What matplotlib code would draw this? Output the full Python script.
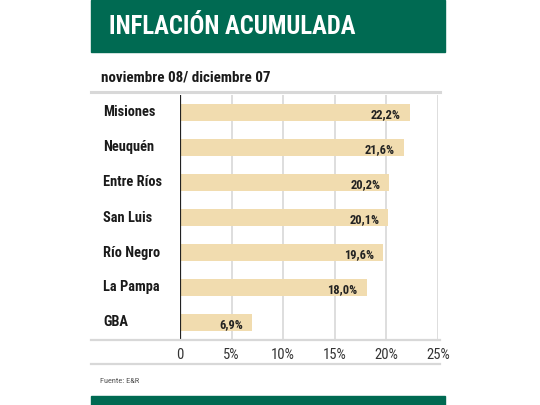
import matplotlib
matplotlib.use("Agg")
import matplotlib.pyplot as plt
from matplotlib.patches import Rectangle
from matplotlib.lines import Line2D

COND = ["Roboto Condensed", "DejaVu Sans"]

categories = ["Misiones", "Neuquén", "Entre Ríos", "San Luis", "Río Negro", "La Pampa", "GBA"]
values = [22.2, 21.6, 20.2, 20.1, 19.6, 18.0, 6.9]
value_labels = ["22,2%", "21,6%", "20,2%", "20,1%", "19,6%", "18,0%", "6,9%"]
xticks = [0, 5, 10, 15, 20, 25]
xtick_labels = ["0", "5%", "10%", "15%", "20%", "25%"]

GREEN = "#006a52"
BAR = "#f1dcaf"
GRID = "#d8d8d8"
W, H = 540, 405

fig = plt.figure(figsize=(5.4, 4.05), dpi=100)
fig.patch.set_facecolor("white")

def fx(px): return px / W
def fy(py): return 1 - py / H

# header
fig.patches.append(Rectangle((fx(91), fy(52)), fx(445) - fx(91), fy(0) - fy(52),
                             transform=fig.transFigure, color=GREEN, zorder=0))
fig.text(fx(109), fy(27), "INFLACIÓN ACUMULADA", color="white", fontsize=17.7,
         fontweight="bold", family=COND, va="center", ha="left")
# bottom bar
fig.patches.append(Rectangle((fx(91), 0), fx(445) - fx(91), fy(396),
                             transform=fig.transFigure, color=GREEN, zorder=0))

fig.text(fx(101), fy(77), "noviembre 08/ diciembre 07", color="#1a1a1a", fontsize=10.8,
         fontweight="bold", family=COND, va="center", ha="left")

# rules
for y, lw in [(92, 2.2), (340, 1.6), (364, 1.6)]:
    fig.add_artist(Line2D([fx(91), fx(440)], [fy(y), fy(y)], transform=fig.transFigure,
                          color=GRID, lw=lw))

ax = fig.add_axes([fx(180), fy(340), fx(438) - fx(180), fy(95) - fy(340)])
ypos = list(range(len(categories)))
ax.barh(ypos, values, height=0.5, color=BAR, zorder=2, left=0.1)
ax.set_xlim(0, 25)
ax.set_ylim(len(categories) - 0.5, -0.5)
for x in xticks[1:]:
    ax.axvline(x, color=GRID, lw=1.2, zorder=1)
ax.axvline(0, color="#222222", lw=1.6, zorder=3)
for s in ax.spines.values():
    s.set_visible(False)
ax.set_yticks([])
ax.set_xticks(xticks)
ax.set_xticklabels(xtick_labels, family=COND, fontsize=10.5, color="#333333")
ax.tick_params(axis="x", length=0, pad=6)
ax.set_facecolor("none")

for i, (v, lab, cat) in enumerate(zip(values, value_labels, categories)):
    ax.text(v - 0.8, i + 0.06, lab, ha="right", va="center", fontsize=9,
            fontweight="bold", family=COND, color="#222222", zorder=4)
    ax.annotate(cat, xy=(0, i), xycoords=("axes fraction", "data"),
                xytext=(103 - 180, 0), textcoords="offset pixels",
                ha="left", va="center", fontsize=10.4, fontweight="bold",
                family=COND, color="#1a1a1a")

fig.text(fx(100), fy(381), "Fuente: E&R", fontsize=6, color="#555555",
         family=COND, va="center", ha="left")

fig.savefig("out.png", dpi=100)
